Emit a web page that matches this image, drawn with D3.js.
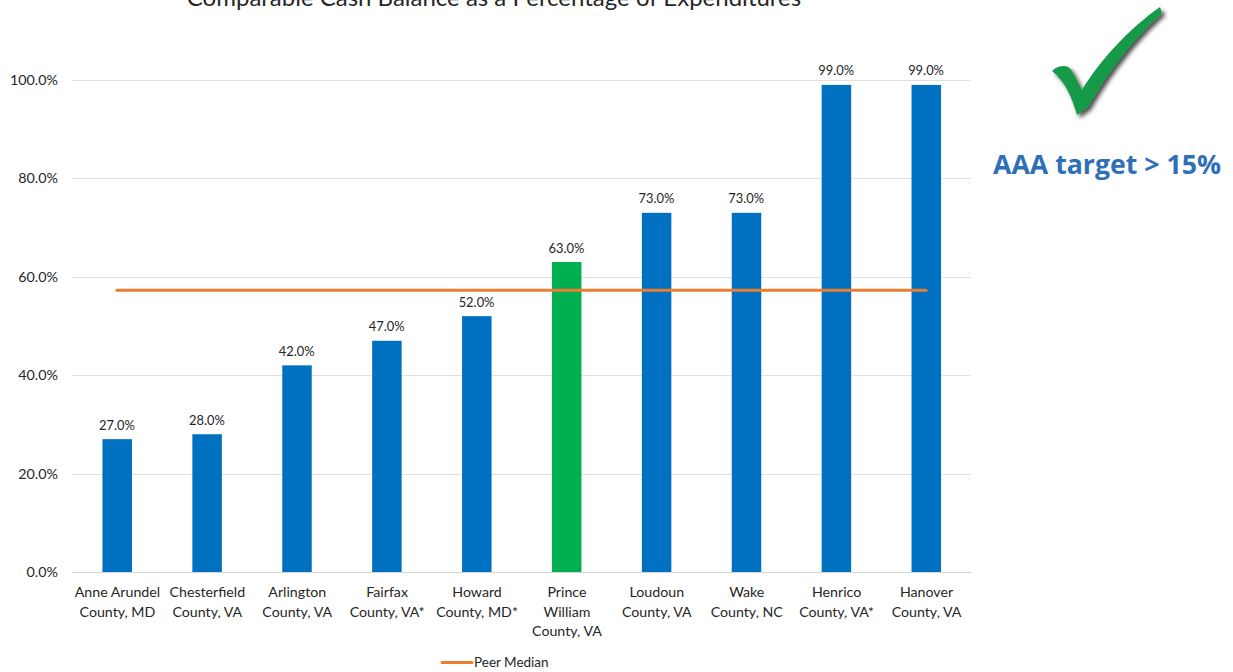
<!DOCTYPE html>
<html><head><meta charset="utf-8">
<script src="https://cdn.jsdelivr.net/npm/d3@7"></script>
<style>html,body{margin:0;padding:0;background:#fff;overflow:hidden}svg{display:block}text{font-family:Lato,sans-serif;fill:#262626}</style>
</head><body><div id="c"></div>
<script>
const categories=[["Anne Arundel","County, MD"],["Chesterfield","County, VA"],["Arlington","County, VA"],["Fairfax","County, VA*"],["Howard","County, MD*"],["Prince","William","County, VA"],["Loudoun","County, VA"],["Wake","County, NC"],["Henrico","County, VA*"],["Hanover","County, VA"]];
const values=[27,28,42,47,52,63,73,73,99,99];
const peerMedian=[57.25,57.25,57.25,57.25,57.25,57.25,57.25,57.25,57.25,57.25];
const highlighted=["Prince"];
const yTicks=[0,20,40,60,80,100];
const W=1233,H=672,L=72,R=971,T=80,B=572;
const svg=d3.select("#c").append("svg").attr("width",W).attr("height",H);
const ids=categories.map((d,i)=>i);
const x=d3.scaleBand().domain(ids).range([L,R]);
const y=d3.scaleLinear().domain([0,100]).range([B,T]);
const defs=svg.append("defs");
const f=defs.append("filter").attr("id","sh").attr("x","-30%").attr("y","-30%").attr("width","170%").attr("height","170%");
f.append("feDropShadow").attr("dx",3).attr("dy",3).attr("stdDeviation",2.2).attr("flood-color","#000").attr("flood-opacity",0.7);
svg.append("text").attr("x",494).attr("y",6).attr("text-anchor","middle").style("font-size","24px").text("Comparable Cash Balance as a Percentage of Expenditures");
svg.selectAll("line.g").data(yTicks).join("line").attr("class","g").attr("x1",L).attr("x2",R).attr("y1",d=>Math.round(y(d))+.5).attr("y2",d=>Math.round(y(d))+.5).attr("stroke",d=>d===0?"#d4d4d4":"#e0e0e0").attr("stroke-width",1);
svg.selectAll("text.yl").data(yTicks).join("text").attr("class","yl").attr("x",58).attr("y",d=>y(d)+5).attr("text-anchor","end").style("font-size","14.3px").text(d=>d.toFixed(1)+"%");
const bw=29.5;
svg.selectAll("rect.b").data(values).join("rect").attr("class","b").attr("x",(d,i)=>x(i)+x.bandwidth()/2-bw/2+.25).attr("width",bw).attr("y",d=>y(d)).attr("height",d=>B-y(d)).attr("fill",(d,i)=>highlighted.includes(categories[i][0])?"#00b050":"#0070c0");
svg.selectAll("text.v").data(values).join("text").attr("class","v").attr("x",(d,i)=>x(i)+x.bandwidth()/2).attr("y",d=>y(d)-9.5).attr("text-anchor","middle").style("font-size","12.9px").text(d=>d.toFixed(1)+"%");
const line=d3.line().x((d,i)=>x(i)+x.bandwidth()/2).y(d=>y(d));
svg.append("path").attr("d",line(peerMedian)).attr("fill","none").attr("stroke","#ed7d31").attr("stroke-width",3).attr("stroke-linecap","round");
categories.forEach((c,i)=>{
 const t=svg.append("text").attr("text-anchor","middle").style("font-size","14.2px");
 c.forEach((s,j)=>t.append("tspan").attr("x",x(i)+x.bandwidth()/2+.5).attr("y",597+j*19.7).text(s));
});
svg.append("line").attr("x1",442).attr("x2",472).attr("y1",662.5).attr("y2",662.5).attr("stroke","#ed7d31").attr("stroke-width",3).attr("stroke-linecap","round");
svg.append("text").attr("x",474).attr("y",667).style("font-size","13.5px").text("Peer Median");
svg.append("text").attr("x",993).attr("y",174).style("font-family","'Open Sans',sans-serif").style("font-size","26.7px").style("font-weight",700).style("fill","#2e6fb7").text("AAA target > 15%");
svg.append("path").attr("d","M1052,71 C1056,67 1060,66 1064,66 C1069,66 1072,70 1074,75 L1082,90 C1100,60 1130,28 1160,7 L1162,13 C1135,37 1108,72 1088,107 L1077,115 C1072,98 1066,82 1052,71 Z").attr("fill","#129a47").attr("filter","url(#sh)");
</script></body></html>
